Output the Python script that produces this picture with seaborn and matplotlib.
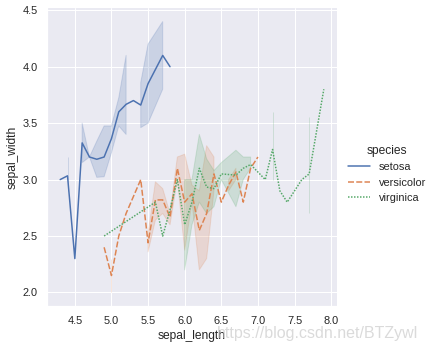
import numpy as np
import pandas as pd
import seaborn as sns
import matplotlib
matplotlib.use("Agg")
import matplotlib.pyplot as plt

# Iris measurements (sepal length / sepal width, cm) for each species
setosa_length = [5.1, 4.9, 4.7, 4.6, 5.0, 5.4, 4.6, 5.0, 4.4, 4.9,
                 5.4, 4.8, 4.8, 4.3, 5.8, 5.7, 5.4, 5.1, 5.7, 5.1,
                 5.4, 5.1, 4.6, 5.1, 4.8, 5.0, 5.0, 5.2, 5.2, 4.7,
                 4.8, 5.4, 5.2, 5.5, 4.9, 5.0, 5.5, 4.9, 4.4, 5.1,
                 5.0, 4.5, 4.4, 5.0, 5.1, 4.8, 5.1, 4.6, 5.3, 5.0]
setosa_width = [3.5, 3.0, 3.2, 3.1, 3.6, 3.9, 3.4, 3.4, 2.9, 3.1,
                3.7, 3.4, 3.0, 3.0, 4.0, 4.4, 3.9, 3.5, 3.8, 3.8,
                3.4, 3.7, 3.6, 3.3, 3.4, 3.0, 3.4, 3.5, 3.4, 3.2,
                3.1, 3.4, 4.1, 4.2, 3.1, 3.2, 3.5, 3.6, 3.0, 3.4,
                3.5, 2.3, 3.2, 3.5, 3.8, 3.0, 3.8, 3.2, 3.7, 3.3]

versicolor_length = [7.0, 6.4, 6.9, 5.5, 6.5, 5.7, 6.3, 4.9, 6.6, 5.2,
                     5.0, 5.9, 6.0, 6.1, 5.6, 6.7, 5.6, 5.8, 6.2, 5.6,
                     5.9, 6.1, 6.3, 6.1, 6.4, 6.6, 6.8, 6.7, 6.0, 5.7,
                     5.5, 5.5, 5.8, 6.0, 5.4, 6.0, 6.7, 6.3, 5.6, 5.5,
                     5.5, 6.1, 5.8, 5.0, 5.6, 5.7, 5.7, 6.2, 5.1, 5.7]
versicolor_width = [3.2, 3.2, 3.1, 2.3, 2.8, 2.8, 3.3, 2.4, 2.9, 2.7,
                    2.0, 3.0, 2.2, 2.9, 2.9, 3.1, 3.0, 2.7, 2.2, 2.5,
                    3.2, 2.8, 2.5, 2.8, 2.9, 3.0, 2.8, 3.0, 2.9, 2.6,
                    2.4, 2.4, 2.7, 2.7, 3.0, 3.4, 3.1, 2.3, 3.0, 2.5,
                    2.6, 3.0, 2.6, 2.3, 2.7, 3.0, 2.9, 2.9, 2.5, 2.8]

virginica_length = [6.3, 5.8, 7.1, 6.3, 6.5, 7.6, 4.9, 7.3, 6.7, 7.2,
                    6.5, 6.4, 6.8, 5.7, 5.8, 6.4, 6.5, 7.7, 7.7, 6.0,
                    6.9, 5.6, 7.7, 6.3, 6.7, 7.2, 6.2, 6.1, 6.4, 7.2,
                    7.4, 7.9, 6.4, 6.3, 6.1, 7.7, 6.3, 6.4, 6.0, 6.9,
                    6.7, 6.9, 5.8, 6.8, 6.7, 6.7, 6.3, 6.5, 6.2, 5.9]
virginica_width = [3.3, 2.7, 3.0, 2.9, 3.0, 3.0, 2.5, 2.9, 2.5, 3.6,
                   3.2, 2.7, 3.0, 2.5, 2.8, 3.2, 3.0, 3.8, 2.6, 2.2,
                   3.2, 2.8, 2.8, 2.7, 3.3, 3.2, 2.8, 3.0, 2.8, 3.0,
                   2.8, 3.8, 2.8, 2.8, 2.6, 3.0, 3.4, 3.1, 3.0, 3.1,
                   3.1, 3.1, 2.7, 3.2, 3.3, 3.0, 2.5, 3.0, 3.4, 3.0]

species_names = ["setosa", "versicolor", "virginica"]

iris = pd.concat([
    pd.DataFrame({"sepal_length": setosa_length, "sepal_width": setosa_width,
                  "species": species_names[0]}),
    pd.DataFrame({"sepal_length": versicolor_length, "sepal_width": versicolor_width,
                  "species": species_names[1]}),
    pd.DataFrame({"sepal_length": virginica_length, "sepal_width": virginica_width,
                  "species": species_names[2]}),
], ignore_index=True)

sns.set_theme()
plt.rcParams["font.family"] = ["Liberation Sans", "DejaVu Sans"]

DPI = 72
g = sns.relplot(data=iris, x="sepal_length", y="sepal_width",
                hue="species", style="species", kind="line",
                height=5, aspect=1, seed=3)

fig = g.figure
fig.set_size_inches(430 / DPI, 348 / DPI)
fig.subplots_adjust(left=47 / 430, right=337 / 430, top=1 - 8 / 348, bottom=1 - 306 / 348)

leg = g._legend
leg.set_bbox_to_anchor((338 / 430, 0.5), transform=fig.transFigure)
leg._loc = 6  # center left

ax = g.ax
ax.set_xticks([4.5, 5.0, 5.5, 6.0, 6.5, 7.0, 7.5, 8.0])
ax.set_yticks([2.0, 2.5, 3.0, 3.5, 4.0, 4.5])

fig.text(418 / 430, 10 / 348, "https://blog.csdn.net/BTZywl", ha="right", va="baseline",
         fontsize=16, color="#d4d4d4", alpha=0.85, zorder=10)

fig.savefig("out.png", dpi=DPI)
